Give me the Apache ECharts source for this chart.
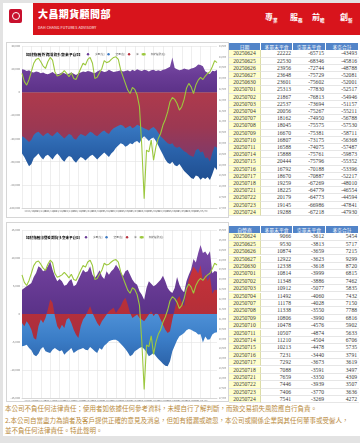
<!DOCTYPE html>
<html><head><meta charset="utf-8">
<script src="https://cdn.jsdelivr.net/npm/echarts@6/dist/echarts.min.js"></script>
<style>
html,body{margin:0;padding:0;width:360px;height:443px;overflow:hidden;background:#e3e3e3;font-family:"Noto Sans CJK TC","Noto Sans",sans-serif;}
.abs{position:absolute;}
#panel{left:3px;top:3px;width:357px;height:433px;background:#fff;}
#band{left:33px;top:3px;width:327px;height:32px;background:#d8141c;}
#logo{left:9px;top:9px;width:13px;height:14px;background:#c8102e;border-radius:2px;}
#logoRing{left:11.5px;top:12px;width:6px;height:6px;border:1.5px solid #fff;border-radius:50%;}
#brand{left:38px;top:6px;color:#fff;font-size:10px;font-weight:900;letter-spacing:0.4px;white-space:nowrap;}
#brandEn{left:38px;top:25px;color:#fff;font-size:3.6px;letter-spacing:0.15px;white-space:nowrap;}
.sg{color:#fff;font-weight:700;white-space:nowrap;}
.sgb{font-size:8px;top:11px;}
.sgs{font-size:4.6px;top:17px;}
.frame{background:#fff;border:1px solid #d6d6d6;}
.th{position:absolute;background:#5284c8;color:#fff;font-size:4.8px;text-align:center;white-space:nowrap;overflow:hidden;}
.td{position:absolute;font-family:"Liberation Serif",serif;font-size:5.6px;color:#3a3a3a;border-bottom:1px solid #e6e6e6;box-sizing:border-box;white-space:nowrap;}
.dt{background:#ffffcc;text-align:center;border-right:1px solid #dcdca8;}
.num{text-align:right;padding-right:2px;background:#fff;}
.foot{left:5px;color:#b98a3c;font-size:6.5px;white-space:nowrap;}
</style></head>
<body>
<div id="panel" class="abs"></div>
<div id="band" class="abs"></div>
<div id="logo" class="abs"></div>
<div id="logoRing" class="abs"></div>
<div id="brand" class="abs">大昌期貨顧問部</div>
<div id="brandEn" class="abs">DAH CHANG FUTURES ADVISORY</div>
<div class="abs sg sgb" style="left:265px">專</div><div class="abs sg sgs" style="left:273px">業</div>
<div class="abs sg sgb" style="left:290px">服</div><div class="abs sg sgs" style="left:298px">務</div>
<div class="abs sg sgb" style="left:312px">前</div><div class="abs sg sgs" style="left:320px">瞻</div>
<div class="abs sg sgb" style="left:340px">創</div><div class="abs sg sgs" style="left:348px">新</div>

<div class="abs" style="left:7px;top:394px;color:#b98a3c;font-size:5px;">1</div>
<div id="c1" class="abs frame" style="left:6px;top:42px;width:221px;height:174px;"></div>
<div id="c2" class="abs frame" style="left:6px;top:222px;width:221px;height:178px;"></div>
<div id="tables"></div>

<div class="abs foot" style="top:403px;">本公司不負任何法律責任；使用者如依據任何參考資料，未經自行了解判斷，而致交易損失風險應自行負責。</div>
<div class="abs foot" style="top:415px;">2.本公司自當盡力為讀者及客戶提供正確的意見及消息，但如有錯漏或疏忽，本公司或關係企業與其任何董事或受僱人，</div>
<div class="abs foot" style="top:425px;">並不負任何法律責任。特此聲明。</div>

<script>
// ---------- chart data ----------
const dates = [
'2024/10/07','2024/10/10','2024/10/14','2024/10/17','2024/10/21','2024/10/24','2024/10/28','2024/10/31',
'2024/11/04','2024/11/07','2024/11/11','2024/11/14','2024/11/18','2024/11/21','2024/11/25','2024/11/28',
'2024/12/02','2024/12/05','2024/12/09','2024/12/12','2024/12/16','2024/12/19','2024/12/23','2024/12/26','2024/12/30',
'2025/01/02','2025/01/06','2025/01/09','2025/01/13','2025/01/16','2025/01/20','2025/01/23','2025/01/27','2025/01/30',
'2025/02/03','2025/02/06','2025/02/10','2025/02/13','2025/02/17','2025/02/20','2025/02/24','2025/02/27',
'2025/03/03','2025/03/06','2025/03/10','2025/03/13','2025/03/17','2025/03/20','2025/03/24','2025/03/27','2025/03/31',
'2025/04/03','2025/04/07','2025/04/10','2025/04/14','2025/04/17','2025/04/21','2025/04/24','2025/04/28',
'2025/05/01','2025/05/05','2025/05/08','2025/05/12','2025/05/15','2025/05/19','2025/05/22','2025/05/26','2025/05/29',
'2025/06/02','2025/06/05','2025/06/09','2025/06/12','2025/06/16','2025/06/19','2025/06/23','2025/06/26','2025/06/30',
'2025/07/03','2025/07/07','2025/07/10','2025/07/14','2025/07/17','2025/07/21','2025/07/24'];

const taiex = [23230,22850,22690,22950,23310,23700,23880,23930,23770,23570,
23460,23770,23970,23850,23310,23110,23160,23230,23360,23230,
23080,23260,23000,22950,23200,23460,23700,23620,23880,23970,
23700,23000,23050,23260,23460,23820,23730,23770,23880,23970,
24000,23880,23390,23080,22770,22460,22300,22580,22490,22230,
21690,19830,17430,19680,19600,20140,19210,19830,20220,20450,
20840,21100,21450,21920,22120,22030,21840,21530,21690,22030,
22540,22770,22610,22300,22690,22920,23050,22950,23110,23230,
23310,23540,23820,23730];

// 外資
const fLong = [20000,19500,18500,19000,17500,17000,18000,17500,16500,17000,
16000,15500,16500,17500,16000,15500,16000,17000,16500,15500,
16000,17000,16000,15000,16500,17000,18000,17500,18500,18000,
17000,16500,18000,19000,18500,17500,18000,19500,18500,17500,
18000,18500,19000,18000,18500,19000,18000,19500,18500,20000,
19000,18500,19500,19000,18000,19000,19500,18500,19000,18500,
19500,20000,21000,22000,30000,21000,20000,19000,19500,20500,
20000,19500,20500,21000,22000,23956,23601,22537,18162,16807,
15888,18670,18225,19288];
const fShort = [-53000,-56000,-60000,-64000,-62000,-57000,-55000,-53000,-56000,-58000,
-55000,-54000,-56000,-58000,-55000,-53000,-55000,-58000,-60000,-57000,
-55000,-56000,-59000,-61000,-58000,-56000,-57000,-59000,-57000,-55000,
-54000,-56000,-58000,-56000,-54000,-52000,-54000,-56000,-53000,-51000,
-48000,-46000,-44000,-45000,-47000,-46000,-44000,-45000,-43000,-42000,
-44000,-40000,-38000,-40000,-42000,-40000,-39000,-42000,-46000,-50000,
-54000,-58000,-61000,-62000,-60000,-63000,-64000,-62000,-65000,-68000,
-70000,-72000,-74000,-75000,-72000,-72744,-75602,-73694,-74950,-73175,
-75761,-70887,-64779,-67218];
const fNet = [-38000,-39000,-41000,-43000,-41000,-37000,-35000,-34000,-36000,-38000,
-36000,-35000,-37000,-38000,-36000,-34000,-36000,-38000,-40000,-38000,
-36000,-37000,-40000,-41000,-38000,-36000,-37000,-38000,-36000,-34000,
-35000,-37000,-38000,-36000,-34000,-33000,-35000,-36000,-33000,-31000,
-30000,-29000,-28000,-29000,-31000,-30000,-29000,-31000,-30000,-28000,
-29000,-30000,-31000,-32000,-33000,-31000,-30000,-32000,-35000,-38000,
-40000,-42000,-44000,-45000,-44000,-47000,-48000,-47000,-49000,-51000,
-52000,-54000,-55000,-56000,-50000,-48788,-52001,-51157,-56788,-56368,
-59873,-52217,-46554,-47930];

// 自營商
const dLong = [4340,4640,4940,5240,5530,6600,7320,8510,8210,7620,
7910,8510,9400,7910,6720,5830,6250,5830,5060,5240,
5830,6250,4940,5240,6130,7020,7910,7440,7620,8510,
7020,6430,7020,7800,6720,6250,7620,7020,7620,8030,
8810,8210,7440,6720,7620,7910,7020,6130,5530,5240,
4050,3450,2560,4640,5830,5410,4940,5240,5650,6130,
6840,5830,4640,4050,3750,4640,6600,5240,4340,3870,
5830,7020,8000,9800,9200,10874,12338,10912,11178,10478,
11210,7292,7659,7541];
const dShort = [-5770,-5650,-5470,-6070,-6490,-7260,-7560,-7080,-6250,-5890,
-6660,-6840,-6960,-6370,-6070,-6370,-6660,-6490,-7260,-6840,
-6490,-6070,-6960,-6660,-6370,-6250,-6070,-6370,-6490,-5890,
-6250,-6660,-6960,-6070,-6370,-5650,-5300,-4880,-4700,-4580,
-4580,-4880,-5300,-5770,-6250,-6840,-7560,-7260,-6660,-6370,
-6070,-5890,-6250,-6840,-7560,-7260,-6960,-7560,-8030,-8450,
-8870,-9220,-9340,-8450,-6660,-5650,-4700,-3990,-3690,-3390,
-2920,-2680,-2800,-3090,-3270,-3659,-3618,-5077,-4028,-4576,
-4504,-3673,-3350,-3269];
const dNet = [-1600,-2200,-1300,-1900,-2800,-4300,-4600,-2200,-1000,-1600,
-700,800,2600,2000,-400,-2200,-2800,-1900,-2500,-1000,
-700,-1600,-2800,-3700,-4300,-2200,-1000,-400,500,1400,
200,-700,-1600,-2200,-1300,-700,-100,500,800,1100,
200,800,1400,2300,2900,1700,200,-700,-400,-100,
-700,-1000,-1300,-700,-100,500,-400,200,-100,-1000,
-1900,-2800,-3400,-3100,-1000,800,2600,3200,2000,1400,
4300,6100,7300,8500,7900,7215,8720,5835,7150,5902,
6706,3619,4309,4272];

// ---------- table data ----------
const tblDates = ['20250624','20250625','20250626','20250627','20250630','20250701','20250702','20250703','20250704','20250707','20250708','20250709','20250710','20250711','20250714','20250715','20250716','20250717','20250718','20250721','20250722','20250723','20250724'];
const t1Head = ['日期','多單未平倉','空單未平倉','多空合計'];
const t1Long = [22222,22530,23956,23648,23601,25313,21867,22537,20056,18162,18045,16670,16807,16588,15888,20444,16792,18670,19259,18225,20179,19145,19288];
const t1Short = [-65715,-68346,-72744,-75729,-75602,-77830,-76813,-73694,-75267,-74950,-75575,-75381,-73175,-74075,-75761,-75796,-70188,-70887,-67269,-64779,-64773,-66986,-67218];
const t1Net = [-43493,-45816,-48788,-52081,-52001,-52517,-54946,-51157,-55211,-56788,-57530,-58711,-56368,-57487,-59873,-55352,-53396,-52217,-48010,-46554,-44594,-47841,-47930];
const t2Head = ['自營商','多單未平倉','空單未平倉','多空合計'];
const t2Long = [9066,9530,10874,12922,12338,10814,11348,10912,11492,11178,11338,10806,10478,10507,11210,10213,7231,7292,7088,7659,7446,7406,7541];
const t2Short = [-3612,-3813,-3659,-3623,-3618,-3999,-3886,-5077,-4060,-4028,-3550,-3990,-4576,-4874,-4504,-4478,-3440,-3673,-3591,-3350,-3939,-3770,-3269];
const t2Net = [5454,5717,7215,9299,8720,6815,7462,5835,7432,7150,7788,6816,5902,5633,6706,5735,3791,3619,3497,4309,3507,3636,4272];

const legendNames = ['多單(左)','空單(左)','淨','加權指數(右)'];

// ---------- tables ----------
function buildTable(top, headH, rowH, head, a, b, c) {
  const lefts = [229, 261, 293, 326], widths = [32, 32, 33, 33];
  let h = '';
  head.forEach((t, k) => {
    h += `<div class="th" style="left:${lefts[k]}px;top:${top}px;width:${widths[k]-1}px;height:${headH}px;line-height:${headH}px">${t}</div>`;
  });
  tblDates.forEach((d, r) => {
    const y = top + headH + r * rowH;
    const vals = [d, a[r], b[r], c[r]];
    vals.forEach((v, k) => {
      const cls = k === 0 ? 'td dt' : 'td num';
      h += `<div class="${cls}" style="left:${lefts[k]}px;top:${y}px;width:${widths[k]}px;height:${rowH}px;line-height:${rowH}px">${v}</div>`;
    });
  });
  return h;
}
document.getElementById('tables').innerHTML =
  buildTable(43, 7.4, 7.2, t1Head, t1Long, t1Short, t1Net) +
  buildTable(225.5, 7.8, 7.4, t2Head, t2Long, t2Short, t2Net);

// ---------- charts ----------
function grad(stops) {
  return new echarts.graphic.LinearGradient(0, 0, 0, 1, stops.map((c, i) => ({offset: i / (stops.length - 1), color: c})));
}
function area(name, data, solid, stops) {
  return {name, type: 'line', data, symbol: 'none', showSymbol: false, silent: true,
    lineStyle: {width: 0}, itemStyle: {color: solid},
    areaStyle: {opacity: 1, color: grad(stops)}, emphasis: {disabled: true}};
}
function makeOption(o) {
  return {
    animation: false,
    textStyle: {fontFamily: '"Noto Sans CJK TC", sans-serif'},
    grid: {left: o.gl, right: o.gr, top: o.gt, bottom: o.gb, containLabel: false, outerBoundsMode: 'none'},
    legend: {left: o.lx, top: o.ly, itemWidth: 4, itemHeight: 3, itemGap: 2, padding: 0,
      textStyle: {fontSize: 2.6, color: '#666'}, data: legendNames},
    graphic: [{type: 'text', left: o.tx, top: o.ty,
      style: {text: o.title, fill: '#000', font: 'bold ' + o.tfs + 'px "Noto Sans CJK TC"'}}],
    xAxis: {type: 'category', data: dates, boundaryGap: false,
      axisLine: {onZero: false, lineStyle: {color: '#c8c8c8', width: 0.6}}, axisTick: {show: false},
      axisLabel: {fontSize: 2.6, color: '#777', interval: 3, margin: 1.5},
      splitLine: {show: true, interval: 3, lineStyle: {color: '#e2e2e2', width: 0.6}}},
    yAxis: [
      {type: 'value', min: o.lmin, max: o.lmax, interval: o.lint,
        axisLabel: {fontSize: 2.8, color: '#777', margin: 2},
        axisLine: {show: false}, axisTick: {show: false},
        splitLine: {lineStyle: {color: '#e2e2e2', width: 0.6}}},
      {type: 'value', position: 'right', min: 17000, max: o.rmax, interval: 500,
        axisLabel: {fontSize: 2.3, color: '#777', margin: 2},
        axisLine: {show: false}, axisTick: {show: false}, splitLine: {show: false}}
    ],
    series: [
      area(legendNames[0], o.long, '#6a3c96', o.pc),
      area(legendNames[1], o.short, '#3a78c2', o.bc),
      area(legendNames[2], o.net, '#b8323e', o.rc),
      {name: legendNames[3], type: 'line', yAxisIndex: 1, data: taiex, symbol: 'none', showSymbol: false,
        lineStyle: {width: 1.1, color: '#9cc83e'}, itemStyle: {color: '#9cc83e'}, emphasis: {disabled: true}}
    ]
  };
}

const c1 = echarts.init(document.getElementById('c1'));
c1.setOption(makeOption({
  gl: 15, gr: 11, gt: 3, gb: 9, lx: 79, ly: 10, tx: 19, ty: 10, tfs: 3.9,
  title: '加權指數外資期貨多空未平倉圖',
  lmin: -100000, lmax: 40000, lint: 20000, rmax: 24500,
  long: fLong, short: fShort, net: fNet,
  pc: ['#7c50a8', '#6a3c96', '#5c3288'],
  bc: ['#4f92d8', '#3a7cc6', '#2a62aa', '#1f4e90'],
  rc: ['#ae3a4c', '#9c3852', '#7d3a6c']
}));

const c2 = echarts.init(document.getElementById('c2'));
c2.setOption(makeOption({
  gl: 15, gr: 11, gt: 7, gb: 3, lx: 77, ly: 13, tx: 19, ty: 13, tfs: 3.6,
  title: '加權指數自營商期貨多空未平倉圖',
  lmin: -15000, lmax: 15000, lint: 5000, rmax: 25500,
  long: dLong, short: dShort, net: dNet,
  pc: ['#7c4aa8', '#6a3c96', '#5a3288'],
  bc: ['#4d90d6', '#3a7cc6', '#2c62a8'],
  rc: ['#c8323a', '#b83038', '#a82e40']
}));
</script>
</body></html>
